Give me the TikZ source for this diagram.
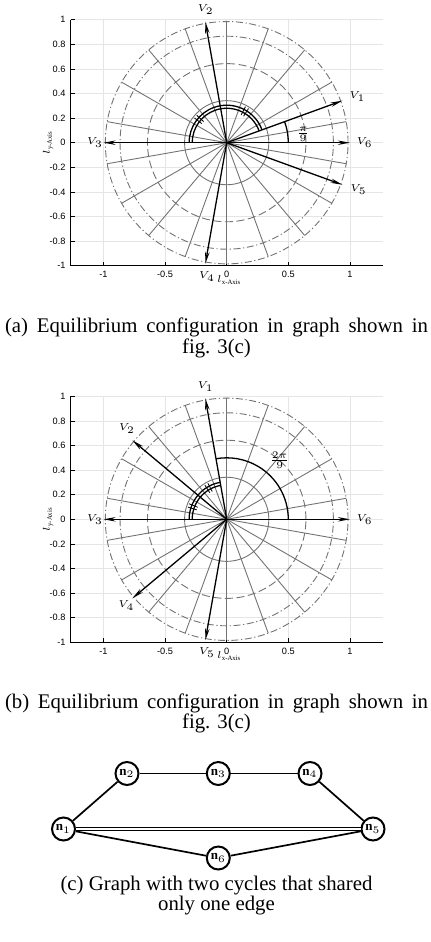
\documentclass[tikz,border=0pt]{standalone}
\usepackage{amsmath}
\usepackage{fontspec}
\setmainfont{Liberation Serif}
\newfontfamily\axisfont{Liberation Sans}
\usetikzlibrary{arrows.meta,positioning}

\tikzset{
  gridline/.style={black!10, line width=0.4pt},
  polarline/.style={black!55, line width=0.45pt},
  vecline/.style={line width=0.65pt, -{Stealth[length=6pt,width=2.2pt]}},
  ticklabel/.style={font=\axisfont\fontsize{4.6}{5}\selectfont, inner sep=0pt},
  veclabel/.style={font=\fontsize{4.8}{5}\selectfont, inner sep=0pt},
  anglearc/.style={line width=0.65pt},
  gnode/.style={circle, draw, line width=1pt, minimum size=11.5pt, inner sep=0pt, font=\fontsize{6.5}{7}\selectfont},
  gedge/.style={line width=0.85pt},
  captext/.style={font=\fontsize{10.4}{12}\selectfont, inner sep=0pt, anchor=base},
}

% polar background, axes and ticks shared by (a) and (b)
\newcommand\polarframe{%
  \foreach \gx in {-1,-0.5,0,0.5,1}
    \draw[gridline] (\gx,-1) -- (\gx,1);
  \foreach \gy in {-1,-0.8,-0.6,-0.4,-0.2,0,0.2,0.4,0.6,0.8,1}
    \draw[gridline] (-1.265,\gy) -- (1.265,\gy);
  \draw[line width=0.5pt] (-1.265,1) -- (-1.265,-1) -- (1.265,-1);
  \foreach \gy/\txt in {-1/-1,-0.8/-0.8,-0.6/-0.6,-0.4/-0.4,-0.2/-0.2,0/0,0.2/0.2,0.4/0.4,0.6/0.6,0.8/0.8,1/1}{
    \draw[line width=0.4pt] (-1.265,\gy) -- ++(2pt,0);
    \node[ticklabel, anchor=east] at ([xshift=-2.5pt]-1.265,\gy) {\txt};
  }
  \foreach \gx/\txt in {-1/-1,-0.5/-0.5,0/0,0.5/0.5,1/1}{
    \draw[line width=0.4pt] (\gx,-1) -- ++(0,2pt);
    \node[ticklabel, anchor=north] at ([yshift=-2.5pt]\gx,-1) {\txt};
  }
  % rings and spokes
  \draw[polarline] (0,0) circle (0.342);
  \draw[polarline, dash pattern=on 4pt off 1.8pt] (0,0) circle (0.643);
  \draw[polarline, dash pattern=on 3.5pt off 1.3pt on 0.6pt off 1.3pt] (0,0) circle (0.866);
  \draw[polarline, dash pattern=on 3.5pt off 1.3pt on 0.6pt off 1.3pt] (0,0) circle (0.985);
  \foreach \a in {10,30,...,350}
    \draw[polarline] (0,0) -- (\a:0.985);
}

% equal-angle marks: double arc with two ticks at each midpoint
\newcommand\equalarcs[4]{%
  \draw[anglearc] (#1:0.28) arc[start angle=#1, end angle=#2, radius=0.28];
  \draw[anglearc] (#1:0.305) arc[start angle=#1, end angle=#2, radius=0.305];
  \foreach \m in {#3,#4}{
    \draw[line width=0.4pt] (\m-2.5:0.255) -- (\m-2.5:0.33);
    \draw[line width=0.4pt] (\m+2.5:0.255) -- (\m+2.5:0.33);
  }
}

\begin{document}
\begin{tikzpicture}[x=0.5pt,y=0.5pt]
\useasboundingbox (0,0) rectangle (431,-942);

% (a)
\begin{scope}[shift={(226.7,-142.7)}, x=61.6pt, y=61.5pt]
  \polarframe
  \draw[vecline] (0,0) -- (20:1);
  \draw[vecline] (0,0) -- (100:1);
  \draw[vecline] (0,0) -- (180:1);
  \draw[vecline] (0,0) -- (260:1);
  \draw[vecline] (0,0) -- (340:1);
  \draw[vecline] (0,0) -- (0:1);
  \equalarcs{20}{180}{60}{140}
  \draw[anglearc] (0.5,0) arc[start angle=0, end angle=20, radius=0.5];
  \node[font=\fontsize{6}{6}\selectfont] (anga) at (0.62,0.07) {$\frac{\pi}{9}$};
  \node[veclabel] (va1) at (1.06,0.375) {$V_1$};
  \node[veclabel] (va2) at (-0.17,1.085) {$V_2$};
  \node[veclabel] (va3) at (-1.07,0) {$V_3$};
  \node[veclabel] (va4) at (-0.16,-1.085) {$V_4$};
  \node[veclabel] (va5) at (1.07,-0.38) {$V_5$};
  \node[veclabel] (va6) at (1.12,0) {$V_6$};
  \node[veclabel] (xla) at (0.02,-1.115) {$l_{\text{x-Axis}}$};
  \node[veclabel, rotate=90] (yla) at (-1.45,0) {$l_{\text{y-Axis}}$};
\end{scope}
\node[captext] (capa1) at (216.5,-332) {\makebox[211.5pt][s]{(a) Equilibrium configuration in graph shown in}};
\node[captext] (capa2) at (216.5,-353) {fig. 3(c)};

% (b)
\begin{scope}[shift={(226.7,-519.3)}, x=61.6pt, y=61.5pt]
  \polarframe
  \draw[vecline] (0,0) -- (100:1);
  \draw[vecline] (0,0) -- (140:1);
  \draw[vecline] (0,0) -- (180:1);
  \draw[vecline] (0,0) -- (220:1);
  \draw[vecline] (0,0) -- (260:1);
  \draw[vecline] (0,0) -- (0:1);
  \equalarcs{100}{180}{120}{160}
  \draw[anglearc] (0.5,0) arc[start angle=0, end angle=100, radius=0.5];
  \node[font=\fontsize{6}{6}\selectfont] (angb) at (0.43,0.48) {$\frac{2\pi}{9}$};
  \node[veclabel] (vb1) at (-0.17,1.08) {$V_1$};
  \node[veclabel] (vb2) at (-0.81,0.74) {$V_2$};
  \node[veclabel] (vb3) at (-1.07,0) {$V_3$};
  \node[veclabel] (vb4) at (-0.815,-0.70) {$V_4$};
  \node[veclabel] (vb5) at (-0.16,-1.085) {$V_5$};
  \node[veclabel] (vb6) at (1.12,0) {$V_6$};
  \node[veclabel] (xlb) at (0.02,-1.115) {$l_{\text{x-Axis}}$};
  \node[veclabel, rotate=90] (ylb) at (-1.45,0) {$l_{\text{y-Axis}}$};
\end{scope}
\node[captext] (capb1) at (216.5,-708) {\makebox[211.5pt][s]{(b) Equilibrium configuration in graph shown in}};
\node[captext] (capb2) at (216.5,-728) {fig. 3(c)};

% (c)
\node[gnode] (n1) at (63.5,-829) {$\mathbf{n}_1$};
\node[gnode] (n2) at (127,-773.5) {$\mathbf{n}_2$};
\node[gnode] (n3) at (218.3,-773.5) {$\mathbf{n}_3$};
\node[gnode] (n4) at (310,-773.5) {$\mathbf{n}_4$};
\node[gnode] (n5) at (373,-829) {$\mathbf{n}_5$};
\node[gnode] (n6) at (218.3,-858) {$\mathbf{n}_6$};
\draw[gedge] (n1) -- (n2);
\draw[gedge] (n2) -- (n3);
\draw[gedge] (n3) -- (n4);
\draw[gedge] (n4) -- (n5);
\draw[gedge] (n1) -- (n6);
\draw[gedge] (n6) -- (n5);
\draw[line width=0.55pt, double, double distance=1pt] (n1) -- (n5);
\node[captext] (capc1) at (216.5,-890) {(c) Graph with two cycles that shared};
\node[captext] (capc2) at (216.5,-910) {only one edge};
\end{tikzpicture}
\end{document}
